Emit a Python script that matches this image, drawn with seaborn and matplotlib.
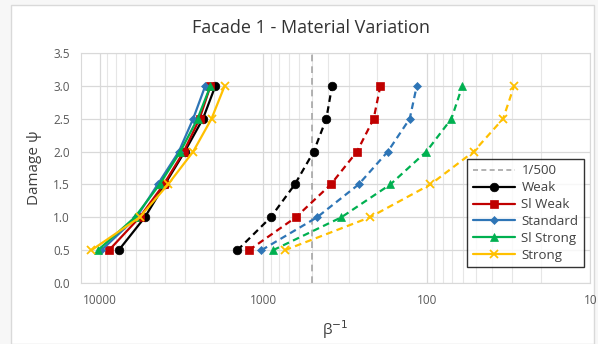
import numpy as np
import pandas as pd
import seaborn as sns
import matplotlib.pyplot as plt
from matplotlib.lines import Line2D
from matplotlib.patches import Rectangle
from matplotlib.ticker import FixedLocator, NullFormatter

# damage levels (y) shared by every series
damage = [0.5, 1.0, 1.5, 2.0, 2.5, 3.0]

# solid group (left) - beta^-1 values
weak_solid = [7650, 5300, 4000, 3020, 2335, 1960]
slweak_solid = [8770, 5700, 4060, 3060, 2450, 2100]
standard_solid = [9760, 5960, 4420, 3280, 2680, 2260]
slstrong_solid = [10250, 6100, 4300, 3210, 2520, 2100]
strong_solid = [11240, 5700, 3820, 2680, 2070, 1720]

# dashed group (right)
weak_dash = [1438, 900, 641, 491, 411, 379]
slweak_dash = [1222, 632, 386, 267, 211, 192]
standard_dash = [1026, 469, 261, 173, 127, 115]
slstrong_dash = [871, 333, 167, 100.5, 70.6, 60.5]
strong_dash = [739, 223, 95, 51.6, 34.1, 29.2]

names = ["Weak", "Sl Weak", "Standard", "Sl Strong", "Strong"]
solids = [weak_solid, slweak_solid, standard_solid, slstrong_solid, strong_solid]
dashes = [weak_dash, slweak_dash, standard_dash, slstrong_dash, strong_dash]
colors = ["#000000", "#C00000", "#2E75B6", "#00B050", "#FFC000"]
markers = ["o", "s", "D", "^", "x"]
msizes = [6.2, 6.2, 4.5, 6.2, 6.2]

limit_x = 500

sns.set_style("white")
plt.rcParams['font.family'] = ['Open Sans', 'DejaVu Sans']

fig = plt.figure(figsize=(5.98, 3.44), dpi=100)
fig.patch.set_facecolor("#F7F7F7")
ax = fig.add_axes([0.1355, 0.177, 0.8515, 0.669])
ax.set_facecolor("white")

# white chart area with light frame
fig.patches.append(Rectangle((0.018, 0.0), 0.975, 0.985, transform=fig.transFigure,
                             facecolor="white", edgecolor="#D9D9D9", lw=1, zorder=-10))

for name, xs, xd, c, m, ms in zip(names, solids, dashes, colors, markers, msizes):
    df_s = pd.DataFrame({"x": xs, "y": damage})
    df_d = pd.DataFrame({"x": xd, "y": damage})
    mew = 1.3 if m == "x" else 0.5
    sns.lineplot(data=df_s, x="x", y="y", ax=ax, color=c, marker=m, markersize=ms,
                 markeredgecolor=c, markeredgewidth=mew,
                 lw=1.6, sort=False, estimator=None, zorder=3)
    sns.lineplot(data=df_d, x="x", y="y", ax=ax, color=c, marker=m, markersize=ms,
                 markeredgecolor=c, markeredgewidth=mew,
                 lw=1.6, linestyle=(0, (3, 2)), sort=False, estimator=None, zorder=3)

ax.axvline(limit_x, color="#A6A6A6", lw=1.2, linestyle=(0, (4, 3)), zorder=2)

ax.set_xscale("log")
ax.set_xlim(13000, 10)
ax.set_ylim(0, 3.5)

ax.xaxis.set_major_locator(FixedLocator([10000, 1000, 100, 10]))
ax.set_xticklabels(["10000", "1000", "100", "10"])
minor = [k * 10 ** e for e in range(1, 4) for k in range(2, 10)]
ax.xaxis.set_minor_locator(FixedLocator(minor))
ax.xaxis.set_minor_formatter(NullFormatter())
ax.set_yticks(np.arange(0, 3.51, 0.5))
ax.set_yticklabels([f"{v:.1f}" for v in np.arange(0, 3.51, 0.5)])

ax.grid(True, which="major", color="#D9D9D9", lw=0.9)
ax.grid(True, which="minor", axis="x", color="#E6E6E6", lw=0.8)
ax.set_axisbelow(True)
for s in ax.spines.values():
    s.set_color("#D9D9D9")
ax.tick_params(length=0, labelsize=8.5, labelcolor="#595959", pad=8)

ax.set_xlabel(r"β$^{-1}$", fontsize=11, color="#404040", labelpad=8)
ax.set_ylabel("Damage ψ", fontsize=11, color="#404040", labelpad=8)
fig.suptitle("Facade 1 - Material Variation", x=0.52, y=0.945, fontsize=13, color="#333333")

handles = [Line2D([], [], color="#A6A6A6", lw=1.2, linestyle=(0, (3, 2)))]
for c, m, ms in zip(colors, markers, msizes):
    handles.append(Line2D([], [], color=c, marker=m, markersize=ms, lw=1.6,
                          markeredgewidth=1.3 if m == "x" else 0.5))
leg = ax.legend(handles, ["1/500"] + names, loc="lower right", bbox_to_anchor=(1.0, 0.04),
                fontsize=9.5, frameon=True, fancybox=False, handlelength=3.2,
                labelspacing=0.3, borderpad=0.4, handletextpad=0.5)
leg.get_frame().set_edgecolor("black")
leg.get_frame().set_linewidth(1.0)
for t in leg.get_texts():
    t.set_color("#404040")

fig.savefig("out.png", dpi=100)
